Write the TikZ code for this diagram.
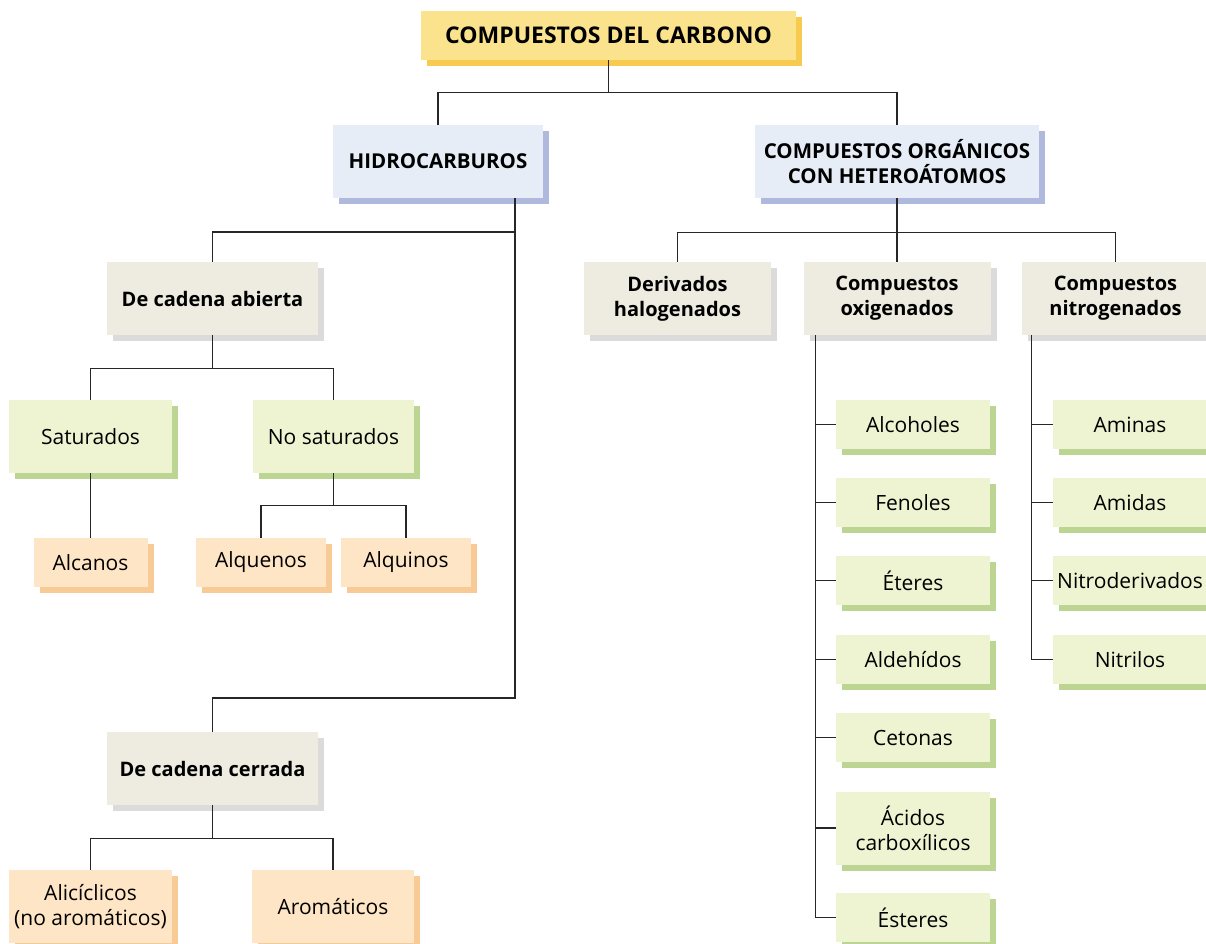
\documentclass[tikz,border=0pt]{standalone}
\usepackage{fontspec}
\setmainfont{Open Sans}
\usepackage{tikz}
\usetikzlibrary{shadows}

\definecolor{titlefill}{HTML}{FBE38E}
\definecolor{titleshade}{HTML}{F7CB4D}
\definecolor{bluefill}{HTML}{E7EDF6}
\definecolor{blueshade}{HTML}{AFB9DD}
\definecolor{greyfill}{HTML}{EEECE0}
\definecolor{greyshade}{HTML}{DBDBDB}
\definecolor{greenfill}{HTML}{EEF3D1}
\definecolor{greenshade}{HTML}{BDD593}
\definecolor{orangefill}{HTML}{FDE5C5}
\definecolor{orangeshade}{HTML}{F8CB96}

\tikzset{
  box/.style={inner sep=0pt, align=center, font=\fontsize{21}{25}\selectfont},
  titlebox/.style={box, fill=titlefill, font=\fontsize{23}{26}\selectfont\bfseries,
    general shadow={fill=titleshade, shadow xshift=6pt, shadow yshift=-6pt}},
  bluebox/.style={box, fill=bluefill, font=\fontsize{20.5}{25}\selectfont\bfseries,
    general shadow={fill=blueshade, shadow xshift=6pt, shadow yshift=-6pt}},
  greybox/.style={box, fill=greyfill, font=\fontsize{20}{25}\selectfont\bfseries,
    general shadow={fill=greyshade, shadow xshift=6pt, shadow yshift=-6pt}},
  greenbox/.style={box, fill=greenfill,
    general shadow={fill=greenshade, shadow xshift=6pt, shadow yshift=-6pt}},
  orangebox/.style={box, fill=orangefill,
    general shadow={fill=orangeshade, shadow xshift=6pt, shadow yshift=-6pt}},
  link/.style={line width=1.2pt, black!85}
}

\begin{document}
\begin{tikzpicture}[x=1pt,y=-1pt]
\useasboundingbox (0,0) rectangle (1206,943);

% first levels
\node[titlebox, minimum width=375, minimum height=49] (carbono) at (608.5,35.5) {COMPUESTOS DEL CARBONO};
\node[bluebox, minimum width=210, minimum height=73] (hidro) at (438,161.5) {HIDROCARBUROS};
\node[bluebox, minimum width=284, minimum height=73] (hetero) at (897,161.5) {COMPUESTOS ORGÁNICOS\\CON HETEROÁTOMOS};

% hidrocarburos
\node[greybox, minimum width=211, minimum height=73] (abierta) at (212.5,298.5) {De cadena abierta};
\node[greybox, minimum width=211, minimum height=73] (cerrada) at (212.5,768.5) {De cadena cerrada};
\node[greenbox, minimum width=163, minimum height=73] (saturados) at (90.5,436.5) {Saturados};
\node[greenbox, minimum width=161, minimum height=73] (nosat) at (333.5,436.5) {No saturados};
\node[orangebox, minimum width=114, minimum height=49] (alcanos) at (90.5,562.5) {Alcanos};
\node[orangebox, minimum width=130, minimum height=49] (alquenos) at (261,562.5) {Alquenos};
\node[orangebox, minimum width=130, minimum height=49] (alquinos) at (406,562.5) {Alquinos};
\node[orangebox, minimum width=163, minimum height=73] (aliciclicos) at (90.5,906.5) {Alicíclicos\\(no aromáticos)};
\node[orangebox, minimum width=162, minimum height=73] (aromaticos) at (333,906.5) {Aromáticos};

% heteroatomos
\node[greybox, minimum width=187, minimum height=73] (halo) at (677.5,298.5) {Derivados\\halogenados};
\node[greybox, minimum width=187, minimum height=73] (oxig) at (897,298.5) {Compuestos\\oxigenados};
\node[greybox, minimum width=187, minimum height=73] (nitrog) at (1115.5,298.5) {Compuestos\\nitrogenados};

\node[greenbox, minimum width=154, minimum height=49] (alcoholes) at (913,424.5) {Alcoholes};
\node[greenbox, minimum width=154, minimum height=49] (fenoles) at (913,502.5) {Fenoles};
\node[greenbox, minimum width=154, minimum height=49] (eteres) at (913,580.5) {Éteres};
\node[greenbox, minimum width=154, minimum height=49] (aldehidos) at (913,659.5) {Aldehídos};
\node[greenbox, minimum width=154, minimum height=49] (cetonas) at (913,737.5) {Cetonas};
\node[greenbox, minimum width=154, minimum height=73] (acidos) at (913,828) {Ácidos\\carboxílicos};
\node[greenbox, minimum width=154, minimum height=49] (esteres) at (913,917.5) {Ésteres};

\node[greenbox, minimum width=154, minimum height=49] (aminas) at (1130,424.5) {Aminas};
\node[greenbox, minimum width=154, minimum height=49] (amidas) at (1130,502.5) {Amidas};
\node[greenbox, minimum width=154, minimum height=49] (nitroder) at (1130,580.5) {Nitroderivados};
\node[greenbox, minimum width=154, minimum height=49] (nitrilos) at (1130,659.5) {Nitrilos};

% connectors
\coordinate (fork) at (515,232);
\coordinate (trunk) at (515,698);
\draw[link] (carbono.south) -- ++(0,32) -| (hidro.north);
\draw[link] (carbono.south) -- ++(0,32) -| (hetero.north);
\draw[link] (hidro.south -| trunk) -- (trunk) -| (cerrada.north);
\draw[link] (fork) -| (abierta.north);
\draw[link] (abierta.south) -- ++(0,33) -| (saturados.north);
\draw[link] (abierta.south) -- ++(0,33) -| (nosat.north);
\draw[link] (saturados.south) -- (alcanos.north);
\draw[link] (nosat.south) -- ++(0,32) -| (alquenos.north);
\draw[link] (nosat.south) -- ++(0,32) -| (alquinos.north);
\draw[link] (cerrada.south) -- ++(0,33) -| (aliciclicos.north);
\draw[link] (cerrada.south) -- ++(0,33) -| (aromaticos.north);

\draw[link] (hetero.south) -- ++(0,34) -| (halo.north);
\draw[link] (hetero.south) -- (oxig.north);
\draw[link] (hetero.south) -- ++(0,34) -| (nitrog.north);
\foreach \n in {alcoholes,fenoles,eteres,aldehidos,cetonas,acidos,esteres}
  \draw[link] (oxig.south west) ++(12,0) |- (\n.west);
\foreach \n in {aminas,amidas,nitroder,nitrilos}
  \draw[link] (nitrog.south west) ++(10,0) |- (\n.west);
\end{tikzpicture}
\end{document}
